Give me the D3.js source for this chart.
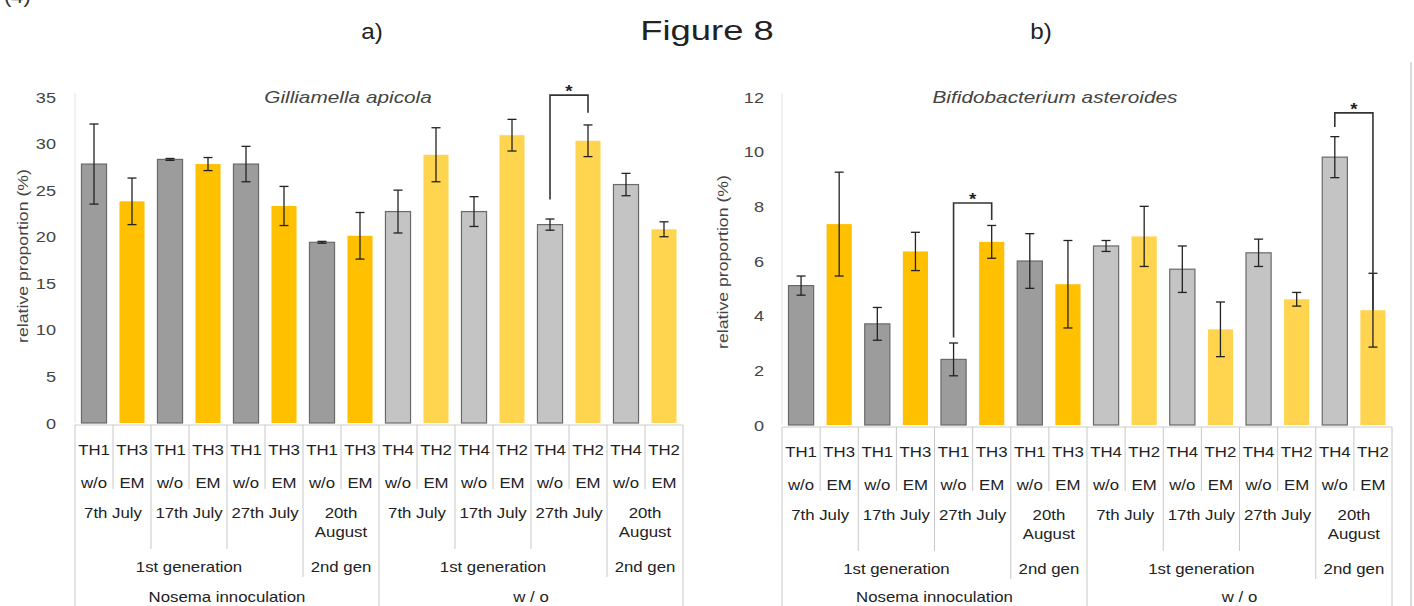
<!DOCTYPE html>
<html><head><meta charset="utf-8">
<script src="https://cdn.jsdelivr.net/npm/d3@7"></script>
<style>html,body{margin:0;padding:0;background:#fff;}svg{display:block;font-family:"Liberation Sans",Arial,sans-serif;}</style>
</head><body>
<script>
// ---------- data ----------
const categories = ["TH1","TH3","TH1","TH3","TH1","TH3","TH1","TH3","TH4","TH2","TH4","TH2","TH4","TH2","TH4","TH2"];
const treatments = ["w/o","EM","w/o","EM","w/o","EM","w/o","EM","w/o","EM","w/o","EM","w/o","EM","w/o","EM"];
const dateLabels = ["7th July","17th July","27th July","20th|August","7th July","17th July","27th July","20th|August"];
const genLabels = ["1st generation","2nd gen","1st generation","2nd gen"];
const genSpans = [6,2,6,2];
const groupLabels = ["Nosema innoculation","w / o"];
const groupSpans = [8,8];

const gilliValues = [27.8,23.8,28.3,27.8,27.8,23.3,19.4,20.1,22.7,28.8,22.7,30.9,21.3,30.3,25.6,20.8];
const gilliErrors = [4.3,2.5,0.1,0.7,1.9,2.1,0.1,2.5,2.3,2.9,1.6,1.7,0.6,1.7,1.2,0.8];
const gilliTicks = [0,5,10,15,20,25,30,35];

const bifidoValues = [5.1,7.35,3.7,6.35,2.4,6.7,6.0,5.15,6.55,6.9,5.7,3.5,6.3,4.6,9.8,4.2];
const bifidoErrors = [0.35,1.9,0.6,0.7,0.6,0.6,1.0,1.6,0.2,1.1,0.85,1.0,0.5,0.25,0.75,1.35];
const bifidoTicks = [0,2,4,6,8,10,12];

// significance brackets (bar indices and heights in data units)
const gilliSig = [{a:12,b:13,top:35.2,endA:24.0,endB:33.3}];
const bifidoSig = [{a:4,b:5,top:8.12,endA:3.2,endB:7.5},{a:14,b:15,top:11.42,endA:10.9,endB:4.2}];

// ---------- drawing ----------
const W=1414,H=606;
const svg=d3.select("body").append("svg").attr("width",W).attr("height",H);

// stretched text helper
function txt(parent,x,y,str,size,sx,opt={}){
  const t=parent.append("text")
    .attr("transform",`translate(${x},${y})${opt.rotate?` rotate(${opt.rotate})`:""} scale(${sx},1)`)
    .attr("font-size",size).attr("fill",opt.fill||"#222")
    .attr("text-anchor",opt.anchor||"middle").text(str);
  if(opt.italic) t.attr("font-style","italic");
  if(opt.bold) t.attr("font-weight","bold");
  return t;
}

txt(svg,4,3,"(4)",20,1.1,{anchor:"start",fill:"#333"});
txt(svg,372,39,"a)",22,1.1);
txt(svg,707,40,"Figure 8",28,1.3);
txt(svg,1041,39,"b)",22,1.1);
svg.append("line").attr("x1",1411).attr("x2",1411).attr("y1",62).attr("y2",606).attr("stroke","#bbb").attr("stroke-width",1);

function chart(cfg){
  const g=svg.append("g");
  const x=d3.scaleBand().domain(d3.range(categories.length)).range([cfg.x0,cfg.x1]).paddingInner(0.34).paddingOuter(0.17);
  const y=d3.scaleLinear().domain([0,cfg.max]).range([cfg.yBase,cfg.yTop]);
  const step=x.step();

  // y axis tick labels
  const ax=d3.axisLeft(y).tickValues(cfg.ticks).tickSize(0).tickPadding(0).tickFormat(()=> "");
  const axg=g.append("g").attr("transform",`translate(${cfg.axisX},0)`).call(ax);
  axg.select(".domain").remove();
  axg.selectAll(".tick").each(function(d){
    txt(d3.select(this),0,5,String(d),14.5,1.25,{anchor:"end",fill:"#444"});
  });

  g.append("line").attr("x1",cfg.x0).attr("x2",cfg.x0).attr("y1",cfg.yTop-4).attr("y2",cfg.yBase).attr("stroke","#e2e2e2");

  txt(g,cfg.labelX,cfg.labelY,"relative proportion (%)",14.5,1.22,{rotate:-90,fill:"#444"});
  txt(g,cfg.titleX,cfg.yTop+6,cfg.title,16,1.3,{italic:true,fill:"#444"});

  // bars
  const colors=cfg.colors;
  g.selectAll("rect.bar").data(cfg.values).join("rect").attr("class","bar")
    .attr("x",(d,i)=>x(i)).attr("width",x.bandwidth())
    .attr("y",d=>y(d)).attr("height",d=>cfg.yBase-y(d))
    .attr("fill",(d,i)=>colors[(i<8?0:2)+(i%2)])
    .attr("stroke",(d,i)=>i%2===0?"#6a6a6a":"none").attr("stroke-width",1.2);

  // error bars
  const eg=g.append("g").attr("stroke","#222").attr("stroke-width",1.3);
  cfg.values.forEach((v,i)=>{
    const cx=x(i)+x.bandwidth()/2, e=cfg.errors[i];
    eg.append("line").attr("x1",cx).attr("x2",cx).attr("y1",y(v+e)).attr("y2",y(v-e));
    eg.append("line").attr("x1",cx-4.5).attr("x2",cx+4.5).attr("y1",y(v+e)).attr("y2",y(v+e));
    eg.append("line").attr("x1",cx-4.5).attr("x2",cx+4.5).attr("y1",y(v-e)).attr("y2",y(v-e));
  });

  // significance
  cfg.sig.forEach(s=>{
    const xa=x(s.a)+x.bandwidth()/2, xb=x(s.b)+x.bandwidth()/2;
    g.append("path").attr("d",`M${xa},${y(s.endA)}V${y(s.top)}H${xb}V${y(s.endB)}`)
      .attr("fill","none").attr("stroke","#333").attr("stroke-width",1.6);
    txt(g,(xa+xb)/2,y(s.top)+2,"*",17,1.1,{bold:true});
  });

  // table
  const tg=g.append("g");
  const top=cfg.yBase+2;
  tg.append("line").attr("x1",cfg.x0).attr("x2",cfg.x1).attr("y1",top).attr("y2",top).attr("stroke","#ccc");
  const bx=i=>cfg.x0+i*step;
  for(let i=0;i<=categories.length;i++){
    let y2;
    if(i===0||i===categories.length||i===8) y2=H;
    else if(i===6||i===14) y2=top+152;
    else if(i%2===0) y2=top+124;
    else y2=top+64;
    tg.append("line").attr("x1",bx(i)).attr("x2",bx(i)).attr("y1",top).attr("y2",y2).attr("stroke","#c8c8c8").attr("stroke-width",1);
  }
  const FS=14, SX=1.2;
  categories.forEach((c,i)=>{
    txt(tg,bx(i)+step/2,top+30,c,FS,SX);
    txt(tg,bx(i)+step/2,top+63,treatments[i],FS,SX);
  });
  dateLabels.forEach((d,j)=>{
    d.split("|").forEach((p,k)=>{
      txt(tg,bx(2*j)+step,top+93+k*19,p,FS,SX);
    });
  });
  let acc=0;
  genSpans.forEach((s,j)=>{
    txt(tg,bx(acc)+s*step/2,top+147,genLabels[j],FS,SX);
    acc+=s;
  });
  acc=0;
  groupSpans.forEach((s,j)=>{
    txt(tg,bx(acc)+s*step/2,H-4,groupLabels[j],FS,SX);
    acc+=s;
  });
}

chart({x0:75,x1:683,yBase:423,yTop:97,max:35,ticks:gilliTicks,axisX:56,labelX:28,labelY:256,
  titleX:348,title:"Gilliamella apicola",values:gilliValues,errors:gilliErrors,sig:gilliSig,
  colors:["#9c9c9c","#ffc000","#c4c4c4","#ffd54f"]});
chart({x0:782,x1:1392,yBase:425,yTop:97,max:12,ticks:bifidoTicks,axisX:764,labelX:728,labelY:262,
  titleX:1055,title:"Bifidobacterium asteroides",values:bifidoValues,errors:bifidoErrors,sig:bifidoSig,
  colors:["#9c9c9c","#ffc000","#c4c4c4","#ffd54f"]});
</script>
</body></html>
